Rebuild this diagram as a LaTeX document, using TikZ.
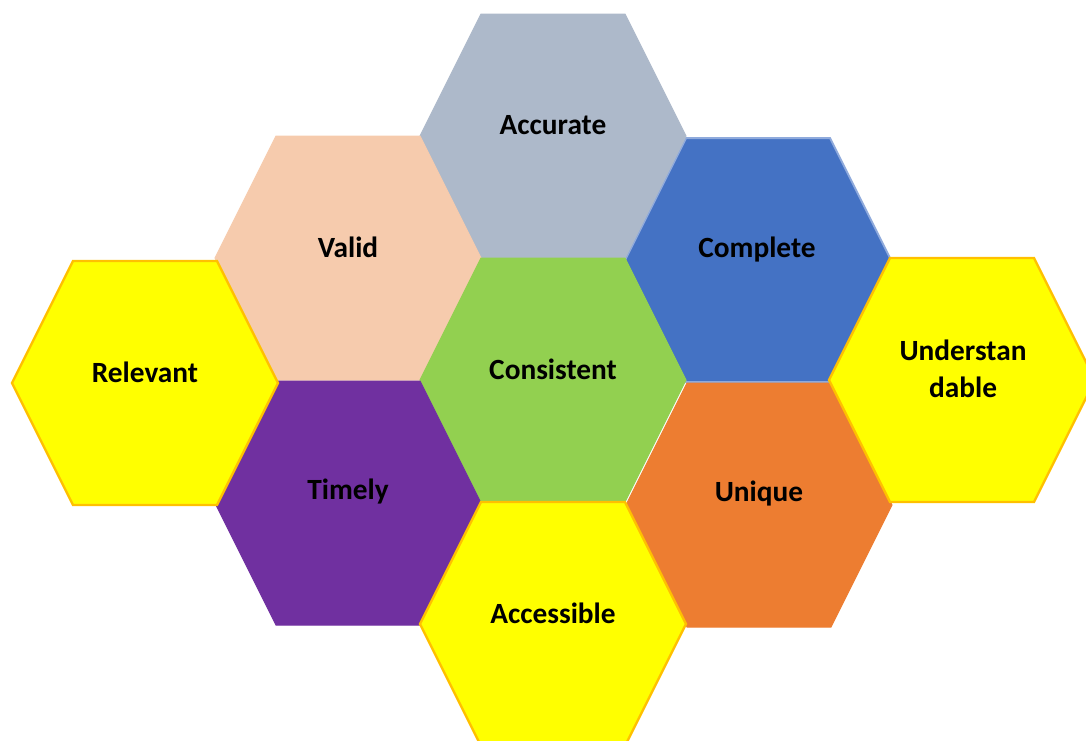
\documentclass[tikz,border=0pt]{standalone}
\usepackage{fontspec}
\setmainfont{Carlito}
\definecolor{accgray}{RGB}{173,185,202}
\definecolor{validpeach}{RGB}{246,203,173}
\definecolor{consgreen}{RGB}{146,208,80}
\definecolor{compblue}{RGB}{68,114,196}
\definecolor{compedge}{RGB}{143,170,220}
\definecolor{timepurple}{RGB}{112,48,160}
\definecolor{uniqorange}{RGB}{237,125,49}
\definecolor{hiyellow}{RGB}{255,255,0}
\definecolor{hiedge}{RGB}{255,192,0}
\tikzset{
  cell/.style={line width=0.75},
  celltext/.style={font=\fontsize{22}{27.75}\selectfont\bfseries, align=center, text=black}
}
\begin{document}
\begin{tikzpicture}[x=0.75pt,y=0.75pt,yscale=-1,xscale=1]
        \useasboundingbox (0,0) rectangle (1086,740);
        \clip (0,0) rectangle (1086,740);

        % coloured cells
        \draw [cell, fill=compblue, draw=compedge, line width=1.5] (625,260) -- (686,138) -- (830,138) -- (891,260) -- (830,382) -- (686,382) -- cycle;
        \foreach \cx/\cy/\col in {553/136/accgray,348/258/validpeach,553/380/consgreen,348/503/timepurple,759/505/uniqorange}{
            \draw [cell, fill=\col, draw=\col] (\cx-133,\cy) -- (\cx-72,\cy-122) -- (\cx+72,\cy-122) -- (\cx+133,\cy) -- (\cx+72,\cy+122) -- (\cx-72,\cy+122) -- cycle;
        }

        % yellow cells
        \foreach \cx/\cy in {145/383,553/624,962/380}{
            \draw [cell, fill=hiyellow, draw=hiedge, line width=1.8] (\cx-133,\cy) -- (\cx-72,\cy-122) -- (\cx+72,\cy-122) -- (\cx+133,\cy) -- (\cx+72,\cy+122) -- (\cx-72,\cy+122) -- cycle;
        }

        % labels
        \node [celltext] (accurate) at (553,125) {Accurate};
        \node [celltext] (valid) at (348,247) {Valid};
        \node [celltext] (complete) at (757,250) {Complete};
        \node [celltext] (relevant) at (145,372) {Relevant};
        \node [celltext] (consistent) at (553,369) {Consistent};
        \node [celltext] (understandable) at (963,369) {Understan\\dable};
        \node [celltext] (timely) at (348,492) {Timely};
        \node [celltext] (unique) at (759,494) {Unique};
        \node [celltext] (accessible) at (553,613) {Accessible};
    \end{tikzpicture}
\end{document}
